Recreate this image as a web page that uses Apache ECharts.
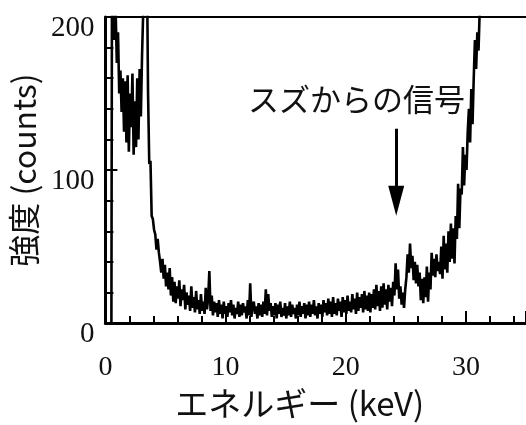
<!DOCTYPE html>
<html>
<head>
<meta charset="utf-8">
<script src="https://cdn.jsdelivr.net/npm/echarts@6/dist/echarts.min.js"></script>
<style>html,body{margin:0;padding:0;background:#fff}#c{width:526px;height:425px}</style>
</head>
<body>
<div id="c"></div>
<script>
// Spectrum: counts per 0.1 keV bin, first bin at 0.5 keV
var startKeV = 0.5;
var binKeV = 0.1;
var counts = [
  0, 240, 200, 185, 205,
  170, 190, 150, 165, 138, 160, 125, 158, 118, 162,
  112, 150, 128, 163, 110, 145, 115, 160, 120, 166,
  135, 175, 205, 235, 250, 240, 150, 104, 106, 70,
  68, 61, 58, 48, 55, 46, 40, 33, 42, 29,
  38, 24, 33, 22, 36, 18, 30, 14, 27, 13,
  24, 16, 28, 11, 22, 15, 25, 9, 20, 12,
  18, 8, 24, 10, 17, 7, 21, 9, 15, 6,
  19, 8, 14, 6, 23, 9, 16, 34, 8, 18,
  5, 14, 7, 13, 4, 15, 6, 12, 3, 14,
  6, 11, 4, 13, 7, 15, 5, 12, 3, 10,
  6, 14, 4, 12, 5, 13, 7, 11, 3, 15,
  5, 26, 4, 12, 14, 6, 11, 3, 13, 5,
  12, 4, 14, 6, 22, 5, 19, 8, 13, 4,
  11, 5, 13, 3, 12, 6, 14, 4, 10, 5,
  13, 3, 11, 5, 14, 4, 12, 6, 10, 3,
  12, 5, 14, 4, 11, 6, 13, 3, 12, 5,
  14, 4, 12, 6, 15, 5, 11, 3, 13, 6,
  12, 4, 15, 7, 13, 5, 16, 6, 14, 4,
  17, 6, 13, 5, 16, 8, 14, 4, 17, 7,
  15, 6, 18, 8, 14, 7, 19, 9, 16, 6,
  20, 8, 17, 10, 19, 7, 21, 9, 18, 8,
  20, 7, 19, 10, 22, 9, 25, 11, 21, 8,
  24, 10, 26, 12, 22, 9, 25, 14, 23, 11,
  27, 18, 39, 22, 35, 16, 24, 12, 20, 10,
  22, 30, 45, 33, 52, 36, 44, 28, 40, 26,
  38, 24, 33, 15, 29, 13, 30, 17, 37, 14,
  33, 22, 46, 31, 42, 30, 45, 34, 40, 32,
  50, 29, 57, 35, 52, 33, 60, 40, 65, 42,
  62, 39, 70, 55, 91, 62, 88, 84, 115, 90,
  110, 100, 125, 140, 118, 153, 130, 160, 185, 166,
  190, 178, 205, 240
];
// Annotation: arrow pointing at the tin signal
var annotationText = 'スズからの信号';
var arrowKeV = 24.2;
var arrowFrom = 127;
var arrowTo = 80;
// Axes
var xName = 'エネルギー (keV)';
var yName = '強度 (counts)';
var xMin = 0, xMax = 35, xInterval = 10;
var yMin = 0, yMax = 200, yInterval = 100;

var seriesData = counts.map(function (c, i) {
  return [+(startKeV + i * binKeV).toFixed(2), c];
});

var jp = '"Noto Sans CJK JP", "Noto Sans", sans-serif';
var serif = '"Liberation Serif", "DejaVu Serif", serif';

var chart = echarts.init(document.getElementById('c'), null, {renderer: 'canvas'});
chart.setOption({
  animation: false,
  backgroundColor: '#fff',
  grid: {left: 105, top: 17, right: -4, bottom: 97},
  xAxis: [{
    type: 'value', min: xMin, max: xMax, interval: xInterval,
    name: xName, nameLocation: 'middle', nameGap: 63,
    nameTextStyle: {fontFamily: jp, fontSize: 33, color: '#111', padding: [0, 32, 0, 0]},
    axisLine: {show: true, lineStyle: {color: '#000', width: 3}},
    axisTick: {show: true, inside: true, length: 12, lineStyle: {color: '#000', width: 2}},
    minorTick: {show: true, splitNumber: 5, length: 7, lineStyle: {color: '#000', width: 2}},
    splitLine: {show: false},
    axisLabel: {fontFamily: serif, fontSize: 28, color: '#111', margin: 31, showMaxLabel: false}
  }, {
    type: 'value', min: xMin, max: xMax, position: 'top',
    axisLine: {show: true, onZero: false, lineStyle: {color: '#000', width: 2}},
    axisTick: {show: false}, axisLabel: {show: false}, splitLine: {show: false}
  }],
  yAxis: {
    type: 'value', min: yMin, max: yMax, interval: yInterval,
    name: yName, nameLocation: 'middle', nameGap: 60, nameRotate: 90,
    nameTextStyle: {fontFamily: jp, fontSize: 32, color: '#111'},
    axisLine: {show: true, lineStyle: {color: '#000', width: 3}},
    axisTick: {show: true, inside: true, length: 12, lineStyle: {color: '#000', width: 2}},
    minorTick: {show: true, splitNumber: 5, length: 8, lineStyle: {color: '#000', width: 2}},
    splitLine: {show: false},
    axisLabel: {fontFamily: serif, fontSize: 29, color: '#111', margin: 11, verticalAlign: 'top', lineHeight: 22}
  },
  graphic: [{
    type: 'text', left: 248, top: 84,
    style: {text: annotationText, font: '31px ' + jp, fill: '#111'}
  }],
  series: [{
    type: 'line',
    data: seriesData,
    showSymbol: false,
    step: 'middle',
    clip: true,
    lineStyle: {color: '#000', width: 2.6},
    markLine: {
      silent: true,
      symbol: ['none', 'triangle'],
      symbolSize: [16, 30],
      label: {show: false},
      lineStyle: {color: '#000', width: 3, type: 'solid'},
      data: [[{coord: [arrowKeV, arrowFrom]}, {coord: [arrowKeV, arrowTo]}]]
    }
  }]
});
</script>
</body>
</html>
